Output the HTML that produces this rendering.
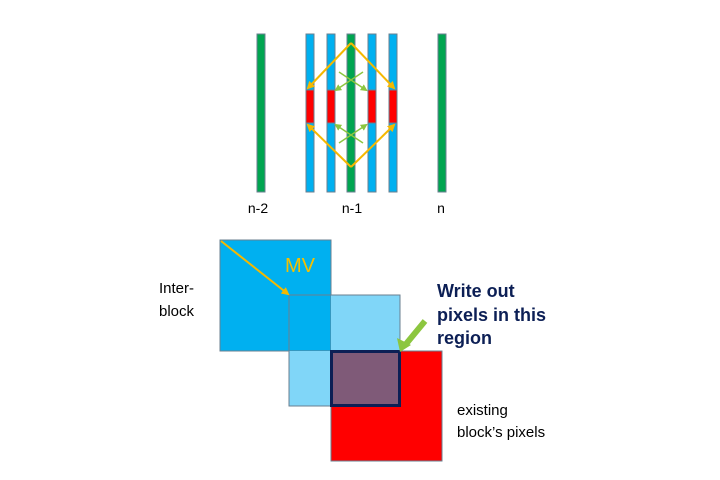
<!DOCTYPE html>
<html><head><meta charset="utf-8"><style>
body{margin:0;background:#fff;width:720px;height:480px;overflow:hidden}
svg{display:block;font-family:"Liberation Sans",sans-serif}
</style></head><body>
<svg width="720" height="480" viewBox="0 0 720 480">
<defs>
<marker id="ay" markerWidth="8" markerHeight="8" refX="6" refY="4" orient="auto" markerUnits="userSpaceOnUse"><path d="M0,0 L8,4 L0,8 Z" fill="#f5b800"/></marker>
<marker id="ag" markerWidth="7" markerHeight="7" refX="5" refY="3.5" orient="auto" markerUnits="userSpaceOnUse"><path d="M0,0 L7,3.5 L0,7 Z" fill="#8cc63f"/></marker>
</defs>
<g stroke="#6a7f8f" stroke-width="1">
<rect x="257" y="34" width="8" height="158" fill="#00a550"/>
<rect x="306" y="34" width="8" height="158" fill="#00b0f0"/>
<rect x="327" y="34" width="8" height="158" fill="#00b0f0"/>
<rect x="347" y="34" width="8" height="158" fill="#00a550"/>
<rect x="368" y="34" width="8" height="158" fill="#00b0f0"/>
<rect x="389" y="34" width="8" height="158" fill="#00b0f0"/>
<rect x="438" y="34" width="8" height="158" fill="#00a550"/>
</g>
<g fill="#ff0000" stroke="#6a7f8f" stroke-width="1">
<rect x="306" y="90" width="8" height="33"/><rect x="327" y="90" width="8" height="33"/>
<rect x="368" y="90" width="8" height="33"/><rect x="389" y="90" width="8" height="33"/>
</g>
<g stroke="#f5b800" stroke-width="2" fill="none">
<line x1="351" y1="43" x2="308" y2="88" marker-end="url(#ay)"/>
<line x1="351" y1="43" x2="394" y2="88" marker-end="url(#ay)"/>
<line x1="351" y1="167" x2="308" y2="125" marker-end="url(#ay)"/>
<line x1="351" y1="167" x2="394" y2="125" marker-end="url(#ay)"/>
</g>
<g stroke="#8cc63f" stroke-width="1.5" fill="none">
<line x1="363" y1="72" x2="336" y2="90" marker-end="url(#ag)"/>
<line x1="339" y1="72" x2="366" y2="90" marker-end="url(#ag)"/>
<line x1="363" y1="143" x2="336" y2="125" marker-end="url(#ag)"/>
<line x1="339" y1="143" x2="366" y2="125" marker-end="url(#ag)"/>
</g>
<g font-size="14" fill="#000" text-anchor="middle">
<text x="258" y="213">n-2</text>
<text x="352" y="213">n-1</text>
<text x="441" y="213">n</text>
</g>
<rect x="220" y="240" width="111" height="111" fill="#00b0f0" stroke="#6a7f8f"/>
<rect x="331" y="351" width="111" height="110" fill="#ff0000" stroke="#6a7f8f"/>
<rect x="331" y="295" width="69" height="56" fill="#80d6f8"/>
<rect x="289" y="351" width="42" height="55" fill="#80d6f8"/>
<rect x="289" y="295" width="111" height="111" fill="none" stroke="#6a7f8f"/>
<rect x="331.5" y="351.5" width="68" height="54" fill="#7f5a78" stroke="#0c1f55" stroke-width="3"/>
<line x1="221" y1="241" x2="288" y2="294" stroke="#f5b800" stroke-width="2" marker-end="url(#ay)"/>
<text x="285" y="272" font-size="20" fill="#f5c000">MV</text>
<g font-size="15" fill="#000">
<text><tspan x="159" y="293">Inter-</tspan><tspan x="159" y="316">block</tspan></text>
<text><tspan x="457" y="415">existing</tspan><tspan x="457" y="437">block’s pixels</tspan></text>
</g>
<text font-size="18" font-weight="bold" fill="#0c1f55"><tspan x="437" y="297">Write out</tspan><tspan x="437" y="321">pixels in this</tspan><tspan x="437" y="344">region</tspan></text>
<line x1="425" y1="321" x2="406" y2="344" stroke="#8cc63f" stroke-width="6" stroke-linecap="butt"/>
<path d="M400,352 L397,338 L411,345 Z" fill="#8cc63f"/>
</svg>
</body></html>
